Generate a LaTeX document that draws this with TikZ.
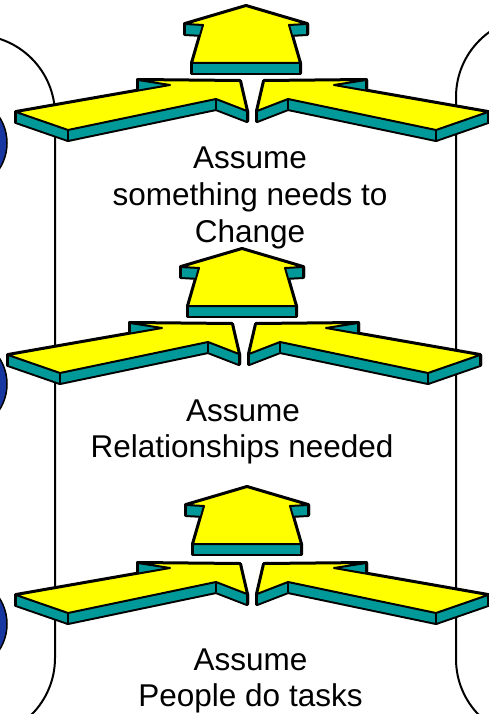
\documentclass[tikz,border=0pt]{standalone}
\usepackage{fontspec}
\setmainfont{Liberation Sans}

\definecolor{slabface}{RGB}{255,255,0}
\definecolor{slabside}{RGB}{0,153,153}
\definecolor{dotblue}{RGB}{25,55,160}

% side faces of a slab: edge list p/q, depth 10
\newcommand{\slabsides}[1]{%
  \foreach \pa/\pb in {#1}
    \draw[line width=4pt, line join=round] (\pa) -- (\pb) -- ([yshift=-10pt]\pb) -- ([yshift=-10pt]\pa) -- cycle;
  \foreach \pa/\pb in {#1}
    \fill[slabside] (\pa) -- (\pb) -- ([yshift=-10pt]\pb) -- ([yshift=-10pt]\pa) -- cycle;
  \foreach \pa/\pb in {#1}
    \draw[line width=2pt] (\pa) -- ([yshift=-10pt]\pa);
}

\tikzset{
  slabtop/.style={fill=slabface, draw=black, line width=2pt, line join=round},
  bracket/.style={draw=black, line width=2pt, rounded corners=80pt},
  dot/.style={circle, fill=dotblue, draw=black, line width=1.5pt, minimum size=96pt, inner sep=0pt},
  caption/.style={anchor=base, inner sep=0pt, font=\fontsize{31.5}{37}\selectfont},
  upslab/.pic={
    \coordinate (a) at (-6,6);
    \coordinate (b) at (-67,24);
    \coordinate (c) at (-49,25);
    \coordinate (d) at (-60,63);
    \coordinate (e) at (48,63);
    \coordinate (f) at (37,25);
    \coordinate (g) at (55,24);
    \slabsides{a/b,b/c,c/d,d/e,e/f,f/g,g/a}
    \path[slabtop] (a) -- (b) -- (c) -- (d) -- (e) -- (f) -- (g) -- cycle;
  },
  sideslab/.pic={
    \coordinate (a) at (-236,112);
    \coordinate (b) at (-82,85);
    \coordinate (c) at (-114,80);
    \coordinate (d) at (-12,81);
    \coordinate (e) at (-5,111);
    \coordinate (f) at (-36,99);
    \coordinate (g) at (-184,130);
    \slabsides{a/b,b/c,c/d,d/e,e/f,f/g,g/a}
    \path[slabtop] (a) -- (b) -- (c) -- (d) -- (e) -- (f) -- (g) -- cycle;
  }
}

\begin{document}
\begin{tikzpicture}[x=1pt, y=-1pt]
  \useasboundingbox (0,0) rectangle (489,714);
  \clip (0,0) rectangle (489,714);

  % Brackets at both sides
  \draw[bracket] (-90,35) -- (55,35) -- (55,738) -- (-90,738);
  \draw[bracket] (580,17) -- (456,17) -- (456,739) -- (580,739);

  % Blue dots cut by the left edge
  \node[dot] (dot1) at (-41,143) {};
  \node[dot] (dot2) at (-41,384) {};
  \node[dot] (dot3) at (-41,624) {};

  % Top level
  \pic at (252,0) {sideslab};
  \pic[xscale=-1] at (252,0) {sideslab};
  \pic at (252,0) {upslab};
  \node[caption] (change1) at (250,169) {Assume};
  \node[caption] (change2) at (250,205) {something needs to};
  \node[caption] (change3) at (250,242) {Change};

  % Middle level
  \pic at (244,243) {sideslab};
  \pic[xscale=-1] at (244,243) {sideslab};
  \pic at (248,243) {upslab};
  \node[caption] (rel1) at (243,421) {Assume};
  \node[caption] (rel2) at (242,457) {Relationships needed};

  % Bottom level
  \pic at (252,483) {sideslab};
  \pic[xscale=-1] at (252,483) {sideslab};
  \pic at (253,481) {upslab};
  \node[caption] (task1) at (250.5,670) {Assume};
  \node[caption] (task2) at (250.5,706) {People do tasks};
\end{tikzpicture}
\end{document}
